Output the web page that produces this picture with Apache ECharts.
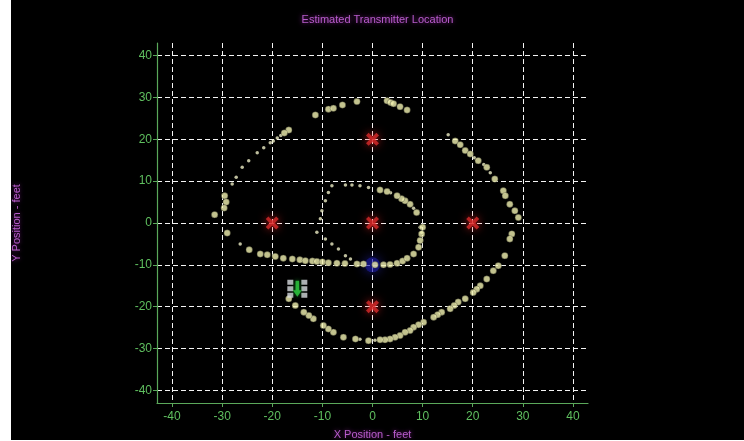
<!DOCTYPE html>
<html>
<head>
<meta charset="utf-8">
<script src="https://cdn.jsdelivr.net/npm/echarts@6/dist/echarts.min.js"></script>
<style>
html,body{margin:0;padding:0;background:#ffffff;}
#chart{position:absolute;left:11px;top:0;width:733px;height:440px;background:#000;}
</style>
</head>
<body>
<div id="chart"></div>
<script>
// ---- data ----
const titleText = 'Estimated Transmitter Location';
const xName = 'X Position - feet';
const yName = 'Y Position - feet';
const xTicks = [-40, -30, -20, -10, 0, 10, 20, 30, 40];
const yTicks = [-40, -30, -20, -10, 0, 10, 20, 30, 40];

// large estimated-position dots
const trackLarge = [
  [-11.4,25.8],[-8.8,27.2],[-7.8,27.4],[-6,28.2],[-3.1,29],[2.9,29.2],[3.6,28.8],[4.2,28.5],[5.5,27.8],[6.9,27.0],
  [-16.7,22.2],[-17.6,21.5],
  [-29.5,6.5],[-29.2,5],[-29.6,3.6],[-31.5,2],[-29,-2.4],[-24.6,-6.4],
  [-22.4,-7.4],[-21,-7.6],[-19.4,-8],[-17.8,-8.4],[-16,-8.6],[-14.5,-8.8],[-13.4,-9],[-12,-9.1],[-11.1,-9.2],
  [-10,-9.3],[-8.8,-9.5],[-7.1,-9.6],[-5.5,-9.7],[-3.1,-9.8],[-1.8,-9.8],[0.5,-10],[2.2,-10],[3.5,-9.9],
  [4.9,-9.6],[6,-9.1],[6.9,-8.4],[8.2,-7.4],[9.2,-5.8],[9.5,-4.2],[9.8,-2.6],[10,-1],
  [8.8,2.5],[7.5,4.5],[6.5,5.3],[5.8,5.8],[4.9,6.5],[2.9,7.5],[1.5,7.9],
  [16.5,19.6],[17.5,18.7],[18.5,17.3],[19.5,16.5],[21.1,14.9],[22.8,13.3],[24.4,10.5],[26.1,7.7],[26.5,6.5],
  [27.4,4.5],[28.4,2.9],[29.1,1.3],[27.8,-2.6],[27.4,-3.8],
  [26.4,-7.8],[25.1,-10.2],[24.1,-11.4],[22.8,-13.4],[21.5,-15],[20.8,-15.8],[20.1,-16.6],[18.5,-18.1],
  [17.1,-18.9],[16.3,-19.7],[15.5,-20.5],[13.8,-21.3],[13,-21.9],[12.2,-22.5],[10.2,-23.7],[9.2,-24.3],
  [8.2,-24.9],[7.5,-25.7],[6.5,-26.1],[5.5,-26.9],[4.5,-27.3],[3.5,-27.7],[2.5,-27.9],[1.5,-27.9],
  [-0.8,-28.1],[-3.4,-27.7],
  [-5.8,-27.3],[-7.8,-26.1],[-8.8,-25.3],[-9.8,-24.5],[-11.8,-22.9],[-12.7,-22.1],[-13.7,-21.3],
  [-15.4,-19.7],[-16.7,-18.1]
];

// small estimated-position dots
const trackSmall = [
  [-18.3,20.9],[-19,20.3],[-19.8,19.6],[-20.4,19.2],[-21.7,18],[-23,16.8],[-24.7,14.9],[-26,13.3],
  [-27.2,10.9],[-28,9.3],
  [-10.4,1],[-10.1,2.9],[-9.4,5.3],[-8.8,7.3],[-8.1,8.9],[-5.4,9.1],[-4.1,9.1],[-2.5,8.9],[-0.8,8.5],
  [3.6,7.2],[8.2,3.5],[9.5,-1],[9.8,-2.2],
  [-11.1,-2.2],[-9.4,-3.8],[-8.1,-5],[-6.8,-6.2],[-5.4,-7.8],[-4.4,-8.6],
  [15.1,21.1],[20.3,15.6],[22.2,14],[23.5,12],
  [-26.4,-5],[-2.5,-27.8],[0.5,-28]
];

// fixed receivers (red X), estimated transmitter (blue), vehicle
const anchors = [[0,20],[-20,0],[0,0],[20,0],[0,-20]];
const transmitter = [[0,-10]];
const vehicle = [[-15,-15.7]];

const green = '#5fbf5f';
const magenta = '#b85ccc';

const chart = echarts.init(document.getElementById('chart'));
const axisCommon = {
  type: 'value',
  min: -43,
  max: 43,
  axisLine: { show: true, onZero: false, lineStyle: { color: '#5aa85a', width: 1.2 } },
  axisTick: { show: true, length: 4, lineStyle: { color: '#5aa85a' } },
  axisLabel: { color: green, fontSize: 12, fontFamily: 'Liberation Sans, Arial, sans-serif', margin: 5 },
  splitLine: { show: true, lineStyle: { color: '#f4f4f4', type: [5, 3], width: 1 } },
  nameTextStyle: { color: magenta, fontSize: 11, fontFamily: 'Liberation Sans, Arial, sans-serif',
    textShadowColor: 'rgba(200,60,220,0.6)', textShadowBlur: 4 }
};

const xAxis = Object.assign({}, axisCommon, {
  name: xName, nameLocation: 'middle', nameGap: 26,
  axisTick: Object.assign({}, axisCommon.axisTick, { customValues: xTicks }),
  axisLabel: Object.assign({}, axisCommon.axisLabel, { customValues: xTicks, margin: 8 })
});
const yAxis = Object.assign({}, axisCommon, {
  name: yName, nameLocation: 'middle', nameGap: 135,
  axisTick: Object.assign({}, axisCommon.axisTick, { customValues: yTicks }),
  axisLabel: Object.assign({}, axisCommon.axisLabel, { customValues: yTicks })
});

const xPath = 'path://M2,0 L5,3 L8,0 L10,2 L7,5 L10,8 L8,10 L5,7 L2,10 L0,8 L3,5 L0,2 Z';
const wheelsPath = 'path://M0,0 h6 v5 h-6 Z M0,6.5 h6 v5 h-6 Z M0,13 h6 v5 h-6 Z M14,0 h6 v5 h-6 Z M14,6.5 h6 v5 h-6 Z M14,13 h6 v5 h-6 Z';
const arrowPath = 'path://M3,0 h4 v10 h3 l-5,7 l-5,-7 h3 Z';

chart.setOption({
  backgroundColor: '#000000',
  animation: false,
  title: {
    text: titleText, left: 'center', top: 9,
    textStyle: { color: magenta, fontSize: 11, fontWeight: 'normal',
      fontFamily: 'Liberation Sans, Arial, sans-serif',
      textShadowColor: 'rgba(200,60,220,0.7)', textShadowBlur: 5 }
  },
  grid: { left: 146, right: 156, top: 43, bottom: 37, containLabel: false, outerBoundsMode: 'none' },
  xAxis: xAxis,
  yAxis: yAxis,
  series: [
    {
      type: 'scatter', data: transmitter, symbol: 'circle', symbolSize: 15, z: 1,
      itemStyle: { color: 'rgba(30,30,170,0.7)', shadowColor: 'rgba(50,50,230,0.9)', shadowBlur: 12 }
    },
    {
      type: 'scatter', data: trackSmall, symbol: 'circle', symbolSize: 3.5, z: 2,
      itemStyle: { color: '#ececc4' }
    },
    {
      type: 'scatter', data: trackLarge, symbol: 'circle', symbolSize: 6.5, z: 3,
      itemStyle: { color: '#f2f2b2', borderColor: '#3a3a2a', borderWidth: 0.5 }
    },
    {
      type: 'scatter', data: anchors, symbol: xPath, symbolSize: 13, z: 4,
      itemStyle: { color: '#d82a2a', shadowColor: 'rgba(255,40,40,0.9)', shadowBlur: 9 }
    },
    {
      type: 'scatter', data: vehicle, symbol: wheelsPath, symbolSize: [20, 18], z: 5,
      itemStyle: { color: '#d8dce0' }
    },
    {
      type: 'scatter', data: vehicle, symbol: arrowPath, symbolSize: [9, 16], z: 6,
      itemStyle: { color: '#2ecc40', shadowColor: 'rgba(40,220,60,0.7)', shadowBlur: 4 }
    }
  ]
});
</script>
</body>
</html>
